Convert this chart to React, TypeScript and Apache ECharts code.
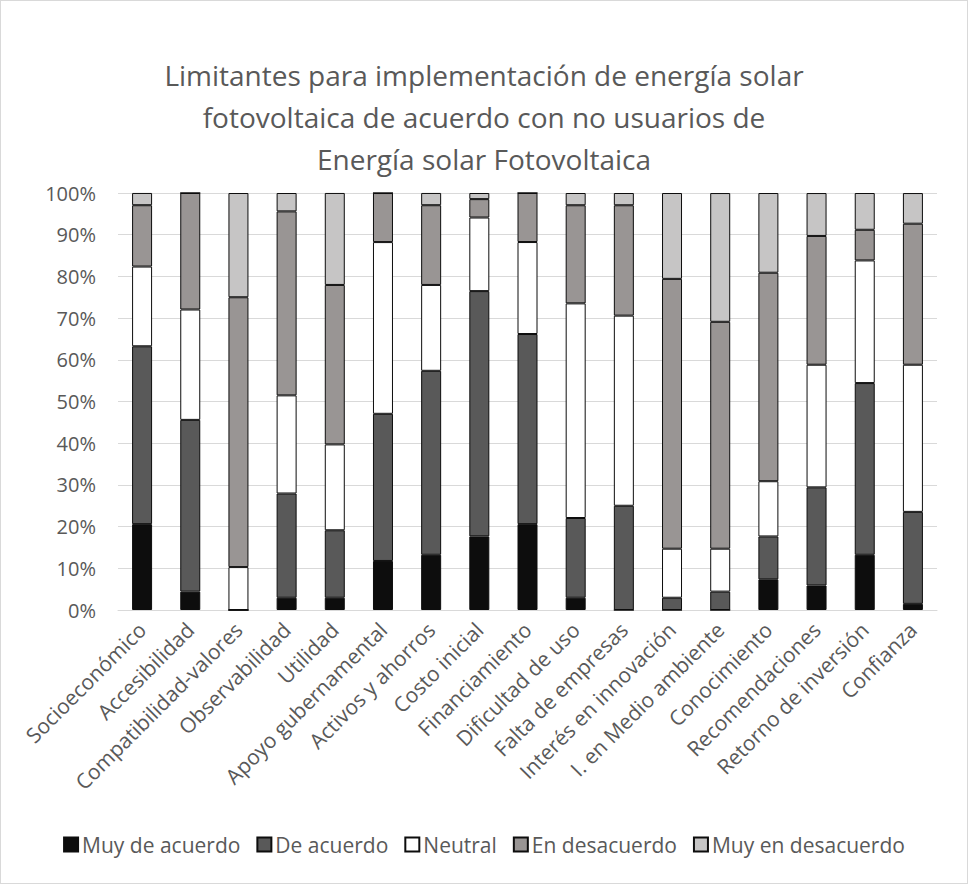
import React, { useEffect, useRef } from "react";
import * as echarts from "echarts";

const categories = [
  "Socioeconómico",
  "Accesibilidad",
  "Compatibilidad-valores",
  "Observabilidad",
  "Utilidad",
  "Apoyo gubernamental",
  "Activos y ahorros",
  "Costo inicial",
  "Financiamiento",
  "Dificultad de uso",
  "Falta de empresas",
  "Interés en innovación",
  "I. en Medio ambiente",
  "Conocimiento",
  "Recomendaciones",
  "Retorno de inversión",
  "Confianza",
];

const muyDeAcuerdo = [20.59, 4.41, 0, 2.94, 2.94, 11.76, 13.24, 17.65, 20.59, 2.94, 0, 0, 0, 7.35, 5.88, 13.24, 1.47];
const deAcuerdo = [42.65, 41.18, 0, 25.0, 16.18, 35.29, 44.12, 58.82, 45.59, 19.12, 25.0, 2.94, 4.41, 10.29, 23.53, 41.18, 22.06];
const neutral = [19.12, 26.47, 10.29, 23.53, 20.59, 41.18, 20.59, 17.65, 22.06, 51.47, 45.59, 11.76, 10.29, 13.24, 29.41, 29.41, 35.29];
const enDesacuerdo = [14.71, 27.94, 64.71, 44.12, 38.24, 11.76, 19.12, 4.41, 11.76, 23.53, 26.47, 64.71, 54.41, 50.0, 30.88, 7.35, 33.82];
const muyEnDesacuerdo = [2.94, 0, 25.0, 4.41, 22.06, 0, 2.94, 1.47, 0, 2.94, 2.94, 20.59, 30.88, 19.12, 10.29, 8.82, 7.35];

const seriesNames = ["Muy de acuerdo", "De acuerdo", "Neutral", "En desacuerdo", "Muy en desacuerdo"];
const seriesColors = ["#0d0d0d", "#595959", "#ffffff", "#999594", "#c6c5c5"];
const seriesData = [muyDeAcuerdo, deAcuerdo, neutral, enDesacuerdo, muyEnDesacuerdo];

const titleText = "Limitantes para implementación de energía solar\nfotovoltaica de acuerdo con no usuarios de\nEnergía solar Fotovoltaica";

const FONT = "'Open Sans', sans-serif";
const TEXT = "#595959";

export default function App() {
  const ref = useRef<HTMLDivElement>(null);

  useEffect(() => {
    if (!ref.current) return;
    const chart = echarts.init(ref.current, null, { renderer: "svg" });
    chart.setOption({
      animation: false,
      backgroundColor: "#ffffff",
      title: {
        text: titleText,
        left: "center",
        top: 48,
        textStyle: {
          fontFamily: FONT,
          fontSize: 28,
          fontWeight: "normal",
          color: TEXT,
          lineHeight: 42,
        },
      },
      grid: { left: 117, right: 30, top: 192, bottom: 273, containLabel: false },
      legend: {
        bottom: 23,
        left: "center",
        itemWidth: 14,
        itemHeight: 14,
        itemGap: 16,
        icon: "rect",
        textStyle: { fontFamily: FONT, fontSize: 21, color: TEXT, padding: [0, 0, 0, -1] },
        data: seriesNames,
      },
      xAxis: {
        type: "category",
        data: categories,
        axisTick: { show: false },
        axisLine: { lineStyle: { color: "#d9d9d9", width: 1 } },
        axisLabel: {
          rotate: 45,
          interval: 0,
          margin: 16,
          fontFamily: FONT,
          fontSize: 21,
          color: TEXT,
        },
      },
      yAxis: {
        type: "value",
        min: 0,
        max: 100,
        interval: 10,
        axisLine: { show: false },
        axisTick: { show: false },
        splitLine: { lineStyle: { color: "#d9d9d9", width: 1 } },
        axisLabel: {
          formatter: "{value}%",
          fontFamily: FONT,
          fontSize: 20,
          color: TEXT,
          margin: 22,
        },
      },
      series: seriesNames.map((name, i) => ({
        name,
        type: "bar",
        stack: "total",
        barWidth: 20,
        data: seriesData[i],
        itemStyle: {
          color: seriesColors[i],
          borderColor: "#0d0d0d",
          borderWidth: 1,
        },
      })),
    });
    return () => chart.dispose();
  }, []);

  return (
    <div
      style={{
        position: "fixed",
        left: 0,
        top: 0,
        width: 968,
        height: 884,
        boxSizing: "border-box",
        border: "1px solid #d9d9d9",
        background: "#fff",
      }}
    >
      <div ref={ref} style={{ width: 966, height: 882 }} />
    </div>
  );
}
